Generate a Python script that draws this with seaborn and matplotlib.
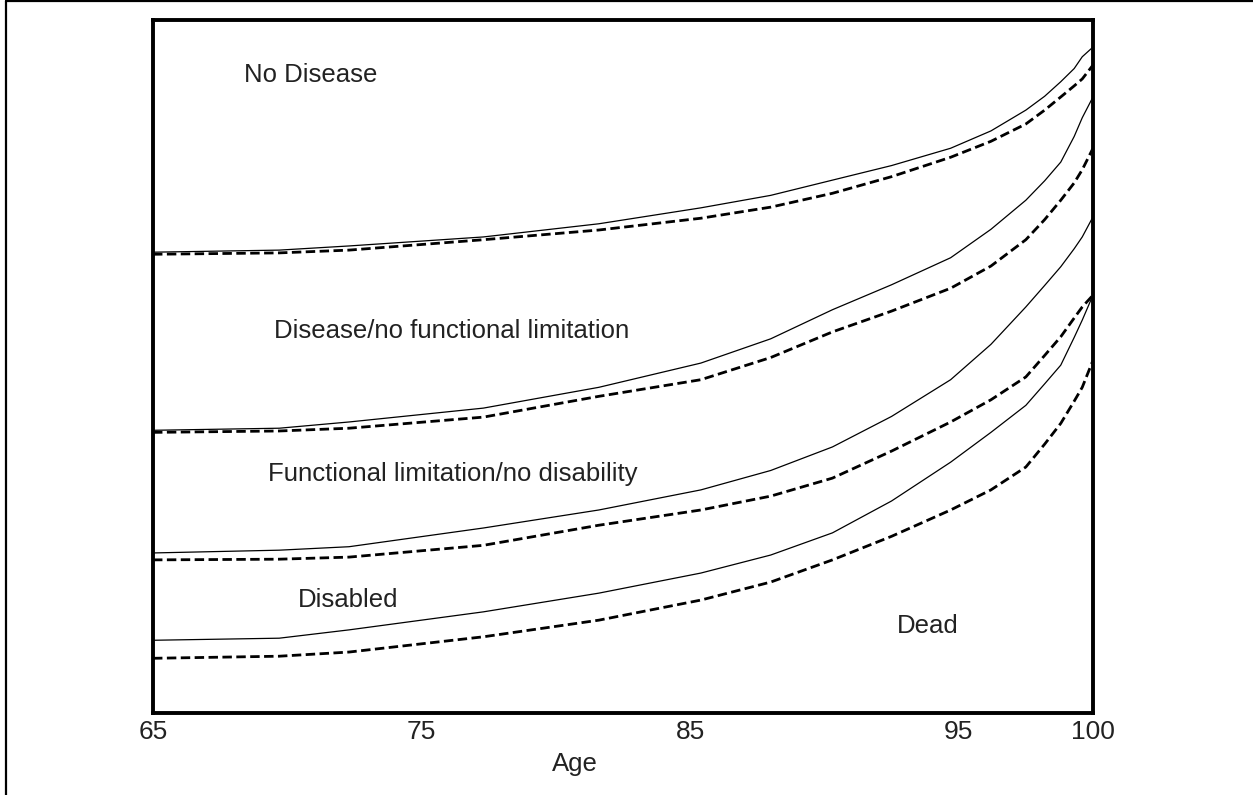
import numpy as np
import pandas as pd
import matplotlib
matplotlib.use('Agg')
import matplotlib.pyplot as plt
from matplotlib.lines import Line2D
import seaborn as sns

# ages sampled along the curves
age = [65, 69.7, 72.3, 77.3, 81.6, 85.4, 88, 90.3, 92.5, 94.7,
       96.2, 97.5, 98.2, 98.8, 99.3, 99.6, 100]

# cumulative percentages (solid = first scenario, dashed = second scenario)
no_disease_solid = [66.5, 66.8, 67.4, 68.7, 70.6, 72.9, 74.7, 76.9, 79.0, 81.5,
                    84.0, 87.0, 89.0, 91.1, 93.0, 94.7, 96.1]
no_disease_dashed = [66.2, 66.4, 66.8, 68.3, 69.7, 71.4, 73.0, 75.0, 77.4, 80.2,
                     82.5, 85.0, 87.0, 88.9, 90.5, 91.5, 93.5]
disease_solid = [40.8, 41.1, 42.0, 44.0, 47.0, 50.5, 54.0, 58.2, 61.8, 65.7,
                 69.8, 74.0, 76.8, 79.5, 83.2, 85.9, 88.9]
disease_dashed = [40.5, 40.7, 41.1, 42.7, 45.7, 48.1, 51.3, 55.0, 58.0, 61.3,
                  64.5, 68.3, 71.2, 74.0, 76.5, 78.4, 81.5]
funclim_solid = [23.1, 23.5, 24.0, 26.7, 29.3, 32.2, 35.0, 38.4, 42.8, 48.1,
                 53.2, 58.6, 61.7, 64.4, 67.0, 68.7, 71.6]
funclim_dashed = [22.1, 22.2, 22.5, 24.2, 27.1, 29.3, 31.3, 33.9, 37.8, 42.0,
                  45.2, 48.5, 51.6, 54.3, 57.0, 58.6, 60.3]
disabled_solid = [10.5, 10.8, 12.0, 14.6, 17.3, 20.2, 22.8, 26.0, 30.6, 36.2,
                  40.5, 44.4, 47.5, 50.2, 54.2, 56.7, 60.3]
disabled_dashed = [7.9, 8.2, 8.8, 11.0, 13.4, 16.3, 18.9, 22.1, 25.5, 29.3,
                   32.2, 35.5, 38.8, 41.8, 45.0, 47.0, 50.9]

solid_curves = [no_disease_solid, disease_solid, funclim_solid, disabled_solid]
dashed_curves = [no_disease_dashed, disease_dashed, funclim_dashed, disabled_dashed]

region_labels = ['No Disease', 'Disease/no functional limitation',
                 'Functional limitation/no disability', 'Disabled', 'Dead']
label_age = [68.4, 69.5, 69.3, 70.4, 92.7]
label_pct = [91.0, 54.1, 33.5, 15.3, 11.5]

xticks = [65, 75, 85, 95, 100]

sns.set_style('white')
plt.rcParams['font.family'] = ['Liberation Sans', 'DejaVu Sans']

fig = plt.figure(figsize=(12.53, 7.95), dpi=100)
ax = fig.add_axes([0.1221, 0.1031, 0.7502, 0.8717])

for ys in solid_curves:
    sns.lineplot(x=age, y=ys, ax=ax, color='black', linewidth=0.9)
for ys in dashed_curves:
    sns.lineplot(x=age, y=ys, ax=ax, color='black', linewidth=2.0,
                 linestyle=(0, (3.4, 1.6)))

for txt, xa, yp in zip(region_labels, label_age, label_pct):
    ax.text(xa, yp, txt, fontsize=18.5, color='#222222', ha='left', va='baseline')

ax.set_xlim(65, 100)
ax.set_ylim(0, 100)
ax.set_xticks(xticks)
ax.set_xticklabels([str(t) for t in xticks], fontsize=19, color='#222222')
ax.set_yticks([])
ax.tick_params(axis='x', length=0, pad=5)
ax.set_ylabel('')
ax.set_xlabel('Age', fontsize=18.5, color='#222222')
ax.xaxis.set_label_coords(0.449, -0.056)

for s in ax.spines.values():
    s.set_visible(True)
    s.set_color('black')
    s.set_linewidth(2.8)

# outer frame (left and top edges only)
fig.add_artist(Line2D([0.0048, 0.0048], [0, 0.999], transform=fig.transFigure,
                      color='black', linewidth=1.6))
fig.add_artist(Line2D([0.0048, 1.0], [0.999, 0.999], transform=fig.transFigure,
                      color='black', linewidth=1.6))

fig.savefig('out.png', dpi=100)
